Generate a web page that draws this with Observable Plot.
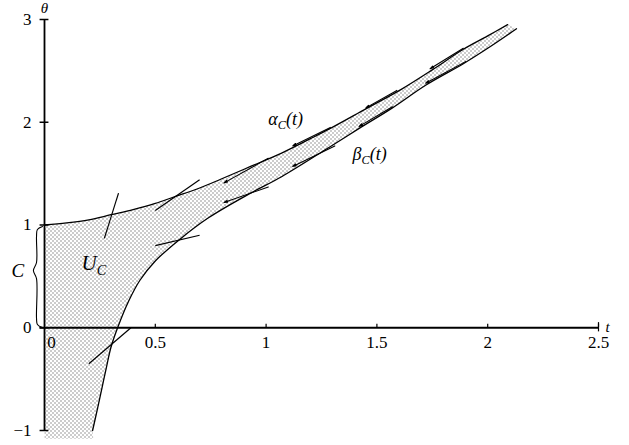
<!DOCTYPE html>
<html>
<head>
<meta charset="utf-8">
<script src="https://cdn.jsdelivr.net/npm/d3@7"></script>
<script src="https://cdn.jsdelivr.net/npm/@observablehq/plot@0.6"></script>
<style>
  html, body { margin: 0; padding: 0; background: #fff; }
</style>
</head>
<body>
<div id="chart"></div>
<script>
// ---- Data: upper fence alpha_C(t) ----
const alphaT     = [0, 0.1, 0.2, 0.3, 0.4, 0.5, 0.58, 0.7, 0.8, 0.93, 1.07, 1.2, 1.29, 1.45, 1.61, 1.75, 1.89, 2.0, 2.09];
const alphaTheta = [1.0, 1.02, 1.05, 1.10, 1.15, 1.21, 1.27, 1.36, 1.45, 1.57, 1.70, 1.84, 1.94, 2.13, 2.32, 2.51, 2.71, 2.84, 2.95];

// ---- Data: lower fence beta_C(t) ----
const betaT     = [0.217, 0.24, 0.26, 0.28, 0.30, 0.33, 0.38, 0.43, 0.5, 0.61, 0.74, 0.93, 1.07, 1.28, 1.42, 1.57, 1.72, 1.89, 2.0, 2.13];
const betaTheta = [-1.0, -0.78, -0.58, -0.38, -0.19, 0.0, 0.26, 0.46, 0.65, 0.86, 1.07, 1.31, 1.47, 1.75, 1.94, 2.14, 2.36, 2.57, 2.72, 2.91];

// shaded region bottom corners (t, theta)
const shadeBottomT     = [0.22, 0];
const shadeBottomTheta = [-1.08, -1.08];

// slope marks (plain segments)
const segT1  = [0.27, 0.50, 0.50, 0.20];
const segTh1 = [0.87, 1.14, 0.80, -0.35];
const segT2  = [0.334, 0.70, 0.70, 0.39];
const segTh2 = [1.31, 1.44, 0.90, 0.0];

// slope marks with arrowheads (from -> to)
const arrT1  = [1.01, 1.29, 1.59, 1.89, 1.01, 1.31, 1.57, 1.90];
const arrTh1 = [1.65, 1.95, 2.31, 2.72, 1.37, 1.77, 2.15, 2.59];
const arrT2  = [0.81, 1.12, 1.45, 1.74, 0.81, 1.12, 1.42, 1.72];
const arrTh2 = [1.41, 1.77, 2.14, 2.52, 1.22, 1.57, 1.96, 2.38];

// brace for C on the theta axis
const braceT     = [-0.009, -0.032, -0.036, -0.036, -0.050, -0.036, -0.036, -0.032, -0.009];
const braceTheta = [0.985, 0.956, 0.888, 0.635, 0.557, 0.479, 0.090, 0.032, 0.002];

// axes ticks
const xTickValues = [0.5, 1, 1.5, 2, 2.5];
const xTickLabels = ["0.5", "1", "1.5", "2", "2.5"];
const yTickValues = [-1, 0, 1, 2, 3];
const yTickLabels = ["\u22121", "0", "1", "2", "3"];

// label annotations
const curveLabels  = ["\u03b1|C|(t)", "\u03b2|C|(t)"];
const curveLabelT  = [1.01, 1.39];
const curveLabelTh = [2.03, 1.69];

// ---- build tables ----
const alpha = alphaT.map((t, i) => ({t, theta: alphaTheta[i]}));
const beta = betaT.map((t, i) => ({t, theta: betaTheta[i]}));
const shade = [
  ...alpha,
  ...beta.slice().reverse(),
  ...shadeBottomT.map((t, i) => ({t, theta: shadeBottomTheta[i]}))
];
const segs = segT1.map((t, i) => ({x1: t, y1: segTh1[i], x2: segT2[i], y2: segTh2[i]}));
const arrs = arrT1.map((t, i) => ({x1: t, y1: arrTh1[i], x2: arrT2[i], y2: arrTh2[i]}));
const brace = braceT.map((t, i) => ({t, theta: braceTheta[i]}));
const xTicks = xTickValues.map((v, i) => ({v, label: xTickLabels[i]}));
const yTicks = yTickValues.map((v, i) => ({v, label: yTickLabels[i]}));
const labels = curveLabels.map((s, i) => ({s, t: curveLabelT[i], theta: curveLabelTh[i]}));

const serif = "'Liberation Serif', 'DejaVu Serif', serif";

const chart = Plot.plot({
  width: 629,
  height: 445,
  marginLeft: 44,
  marginRight: 31,
  marginTop: 19,
  marginBottom: 15,
  x: {domain: [0, 2.5], axis: null},
  y: {domain: [-1, 3], axis: null},
  style: {fontFamily: serif, background: "white", color: "black", overflow: "visible"},
  marks: [
    // stippled region U_C
    Plot.line(shade, {x: "t", y: "theta", fill: "url(#stipple)", stroke: "none", curve: "linear"}),
    // axes
    Plot.ruleX([0], {y1: -1, y2: 3, stroke: "black", strokeWidth: 1.8}),
    Plot.ruleY([0], {x1: -0.02, x2: 2.5, stroke: "black", strokeWidth: 1.8}),
    Plot.ruleY(yTicks, {y: "v", x1: -0.02, x2: 0.02, stroke: "black", strokeWidth: 1.5}),
    Plot.ruleX(xTicks, {x: "v", y1: 0, y2: 0.035, stroke: "black", strokeWidth: 1.2}),
    Plot.ruleX([2.5], {y1: -0.04, y2: 0.05, stroke: "black", strokeWidth: 1.2}),
    Plot.text(yTicks, {x: 0, y: "v", text: "label", dx: -13, textAnchor: "end", fontSize: 17, fill: "black"}),
    Plot.text(xTicks, {x: "v", y: 0, text: "label", dy: 15, textAnchor: "middle", fontSize: 17, fill: "black"}),
    Plot.text(["0"], {x: 0, y: 0, dx: 7, dy: 15, textAnchor: "middle", fontSize: 17, fill: "black"}),
    Plot.text(["\u03b8"], {x: 0, y: 3, dy: -11, textAnchor: "middle", fontSize: 15, fontStyle: "italic", fill: "black"}),
    Plot.text(["t"], {x: 2.5, y: 0, dx: 9, dy: -1, textAnchor: "middle", fontSize: 15, fontStyle: "italic", fill: "black"}),
    // fences
    Plot.line(alpha, {x: "t", y: "theta", stroke: "black", strokeWidth: 1.3, curve: "catmull-rom"}),
    Plot.line(beta, {x: "t", y: "theta", stroke: "black", strokeWidth: 1.3, curve: "catmull-rom"}),
    // slope marks
    Plot.link(segs, {x1: "x1", y1: "y1", x2: "x2", y2: "y2", stroke: "black", strokeWidth: 1.2}),
    Plot.arrow(arrs, {x1: "x1", y1: "y1", x2: "x2", y2: "y2", stroke: "black", strokeWidth: 1.1, headLength: 5, headAngle: 30}),
    // brace and C
    Plot.line(brace, {x: "t", y: "theta", stroke: "black", strokeWidth: 1.1, curve: "catmull-rom"}),
    Plot.text(["C"], {x: -0.12, y: 0.55, fontSize: 19, fontStyle: "italic", fill: "black"}),
    // U_C
    Plot.text(["U|C|"], {x: 0.167, y: 0.625, textAnchor: "start", fontSize: 21, fontStyle: "italic", fill: "black"}),
    // curve labels
    Plot.text(labels, {x: "t", y: "theta", text: "s", textAnchor: "start", fontSize: 18, fontStyle: "italic", fill: "black"})
  ]
});

// stipple pattern
const svg = d3.select(chart);
const defs = svg.insert("defs", ":first-child");
const pat = defs.append("pattern")
  .attr("id", "stipple")
  .attr("patternUnits", "userSpaceOnUse")
  .attr("width", 4)
  .attr("height", 4);
pat.append("rect").attr("x", 0).attr("y", 0).attr("width", 1).attr("height", 1).attr("fill", "#333");
pat.append("rect").attr("x", 2).attr("y", 2).attr("width", 1).attr("height", 1).attr("fill", "#333");

// subscripts
svg.selectAll("text").each(function() {
  const el = d3.select(this);
  const txt = el.text();
  if (txt.indexOf("|") < 0) return;
  const parts = txt.split("|");
  el.text(null);
  el.append("tspan").text(parts[0]);
  el.append("tspan").attr("font-size", "0.68em").attr("dy", "0.35em").text(parts[1]);
  if (parts[2]) el.append("tspan").attr("dy", "-0.24em").text(parts[2]);
});

document.getElementById("chart").appendChild(chart);
</script>
</body>
</html>
